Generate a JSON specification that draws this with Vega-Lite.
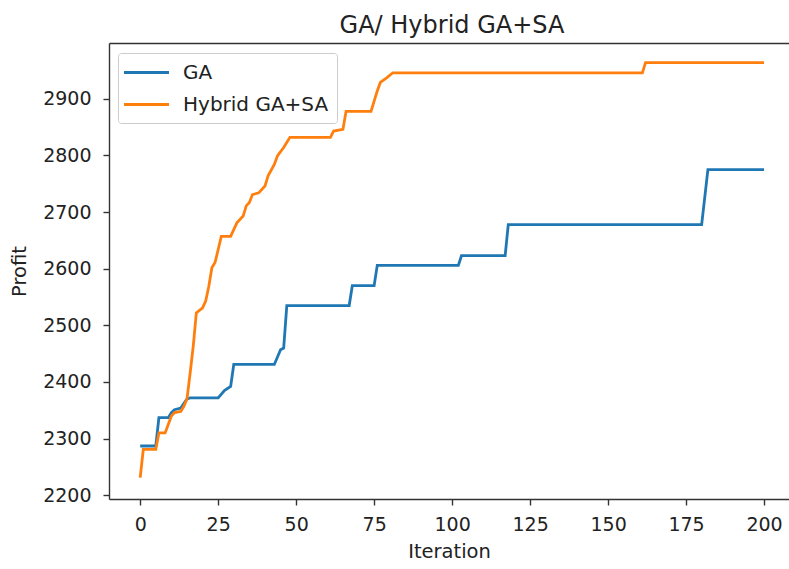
{
  "$schema": "https://vega.github.io/schema/vega-lite/v6.json",
  "width": 680,
  "height": 456,
  "autosize": {"type": "none"},
  "padding": {"left": 109, "top": 43, "right": 0, "bottom": 70},
  "background": "white",
  "title": {"text": "GA/ Hybrid GA+SA", "fontSize": 24, "font": "DejaVu Sans", "fontWeight": "normal", "color": "#222222", "anchor": "middle", "baseline": "alphabetic", "offset": -14, "dx": 3},
  "config": {
    "view": {"stroke": null},
    "axis": {"grid": false, "labelFont": "DejaVu Sans", "labelFontSize": 19, "labelColor": "#222222", "titleFont": "DejaVu Sans", "titleFontSize": 19.5, "titleFontWeight": "normal", "titleColor": "#222222", "domainColor": "#333333", "domainWidth": 1.4, "tickColor": "#333333", "tickWidth": 1.4, "tickSize": 6},
    "legend": {"orient": "none", "legendX": 9, "legendY": 10, "padding": 8, "fillColor": "rgba(255,255,255,0.8)", "strokeColor": "#cccccc", "cornerRadius": 3, "symbolType": "M-2.25,0H2.25", "symbolSize": 400, "symbolStrokeWidth": 2.8, "symbolOffset": 9, "labelOffset": 25, "labelFontSize": 20, "labelFont": "DejaVu Sans", "labelColor": "#222222", "rowPadding": 10}
  },
  "data": {"values": [
    {"series": "GA", "iteration": 0, "profit": 2287},
    {"series": "GA", "iteration": 5, "profit": 2287},
    {"series": "GA", "iteration": 6, "profit": 2337},
    {"series": "GA", "iteration": 9, "profit": 2337},
    {"series": "GA", "iteration": 10, "profit": 2346},
    {"series": "GA", "iteration": 11, "profit": 2351},
    {"series": "GA", "iteration": 13, "profit": 2354},
    {"series": "GA", "iteration": 15, "profit": 2370},
    {"series": "GA", "iteration": 16, "profit": 2372},
    {"series": "GA", "iteration": 25, "profit": 2372},
    {"series": "GA", "iteration": 27, "profit": 2385},
    {"series": "GA", "iteration": 29, "profit": 2392},
    {"series": "GA", "iteration": 30, "profit": 2431},
    {"series": "GA", "iteration": 43, "profit": 2431},
    {"series": "GA", "iteration": 45, "profit": 2457},
    {"series": "GA", "iteration": 46, "profit": 2460},
    {"series": "GA", "iteration": 47, "profit": 2535},
    {"series": "GA", "iteration": 67, "profit": 2535},
    {"series": "GA", "iteration": 68, "profit": 2570},
    {"series": "GA", "iteration": 75, "profit": 2570},
    {"series": "GA", "iteration": 76, "profit": 2606},
    {"series": "GA", "iteration": 102, "profit": 2606},
    {"series": "GA", "iteration": 103, "profit": 2623},
    {"series": "GA", "iteration": 117, "profit": 2623},
    {"series": "GA", "iteration": 118, "profit": 2678},
    {"series": "GA", "iteration": 180, "profit": 2678},
    {"series": "GA", "iteration": 182, "profit": 2775},
    {"series": "GA", "iteration": 200, "profit": 2775},
    {"series": "Hybrid GA+SA", "iteration": 0, "profit": 2231},
    {"series": "Hybrid GA+SA", "iteration": 1, "profit": 2281},
    {"series": "Hybrid GA+SA", "iteration": 5, "profit": 2281},
    {"series": "Hybrid GA+SA", "iteration": 6, "profit": 2310},
    {"series": "Hybrid GA+SA", "iteration": 8, "profit": 2310},
    {"series": "Hybrid GA+SA", "iteration": 10, "profit": 2340},
    {"series": "Hybrid GA+SA", "iteration": 11, "profit": 2346},
    {"series": "Hybrid GA+SA", "iteration": 13, "profit": 2348},
    {"series": "Hybrid GA+SA", "iteration": 14, "profit": 2357},
    {"series": "Hybrid GA+SA", "iteration": 15, "profit": 2370},
    {"series": "Hybrid GA+SA", "iteration": 16, "profit": 2415},
    {"series": "Hybrid GA+SA", "iteration": 17, "profit": 2463},
    {"series": "Hybrid GA+SA", "iteration": 18, "profit": 2522},
    {"series": "Hybrid GA+SA", "iteration": 20, "profit": 2531},
    {"series": "Hybrid GA+SA", "iteration": 21, "profit": 2543},
    {"series": "Hybrid GA+SA", "iteration": 22, "profit": 2569},
    {"series": "Hybrid GA+SA", "iteration": 23, "profit": 2602},
    {"series": "Hybrid GA+SA", "iteration": 24, "profit": 2611},
    {"series": "Hybrid GA+SA", "iteration": 25, "profit": 2634},
    {"series": "Hybrid GA+SA", "iteration": 26, "profit": 2657},
    {"series": "Hybrid GA+SA", "iteration": 29, "profit": 2657},
    {"series": "Hybrid GA+SA", "iteration": 31, "profit": 2681},
    {"series": "Hybrid GA+SA", "iteration": 33, "profit": 2693},
    {"series": "Hybrid GA+SA", "iteration": 34, "profit": 2711},
    {"series": "Hybrid GA+SA", "iteration": 35, "profit": 2717},
    {"series": "Hybrid GA+SA", "iteration": 36, "profit": 2731},
    {"series": "Hybrid GA+SA", "iteration": 38, "profit": 2734},
    {"series": "Hybrid GA+SA", "iteration": 40, "profit": 2746},
    {"series": "Hybrid GA+SA", "iteration": 41, "profit": 2764},
    {"series": "Hybrid GA+SA", "iteration": 43, "profit": 2784},
    {"series": "Hybrid GA+SA", "iteration": 44, "profit": 2799},
    {"series": "Hybrid GA+SA", "iteration": 46, "profit": 2814},
    {"series": "Hybrid GA+SA", "iteration": 48, "profit": 2832},
    {"series": "Hybrid GA+SA", "iteration": 61, "profit": 2832},
    {"series": "Hybrid GA+SA", "iteration": 62, "profit": 2843},
    {"series": "Hybrid GA+SA", "iteration": 65, "profit": 2846},
    {"series": "Hybrid GA+SA", "iteration": 66, "profit": 2878},
    {"series": "Hybrid GA+SA", "iteration": 74, "profit": 2878},
    {"series": "Hybrid GA+SA", "iteration": 76, "profit": 2914},
    {"series": "Hybrid GA+SA", "iteration": 77, "profit": 2929},
    {"series": "Hybrid GA+SA", "iteration": 79, "profit": 2937},
    {"series": "Hybrid GA+SA", "iteration": 81, "profit": 2946},
    {"series": "Hybrid GA+SA", "iteration": 161, "profit": 2946},
    {"series": "Hybrid GA+SA", "iteration": 162, "profit": 2964},
    {"series": "Hybrid GA+SA", "iteration": 200, "profit": 2964}
  ]},
  "encoding": {
    "y": {"field": "profit", "type": "quantitative", "scale": {"domain": [2193.4, 2998.6], "nice": false, "zero": false}, "axis": {"values": [2200, 2300, 2400, 2500, 2600, 2700, 2800, 2900], "format": "d", "title": "Profit", "labelPadding": 12, "titlePadding": 13}}
  },
  "layer": [
    {
      "mark": {"type": "line", "strokeWidth": 2.8, "clip": true},
      "encoding": {
        "x": {"field": "iteration", "type": "quantitative", "scale": {"domain": [-10, 208], "nice": false, "zero": false}, "axis": {"orient": "bottom", "values": [0, 25, 50, 75, 100, 125, 150, 175, 200], "title": "Iteration", "labelPadding": 10, "titlePadding": 8}},
        "color": {"field": "series", "type": "nominal", "scale": {"domain": ["GA", "Hybrid GA+SA"], "range": ["#1f77b4", "#ff7f0e"]}, "legend": {"title": null}}
      }
    },
    {
      "mark": {"type": "line", "opacity": 0},
      "encoding": {
        "x": {"field": "iteration", "type": "quantitative", "axis": {"orient": "top", "labels": false, "ticks": false, "title": null, "domain": true}},
        "detail": {"field": "series", "type": "nominal"}
      }
    }
  ],
  "resolve": {"axis": {"x": "independent"}}
}
